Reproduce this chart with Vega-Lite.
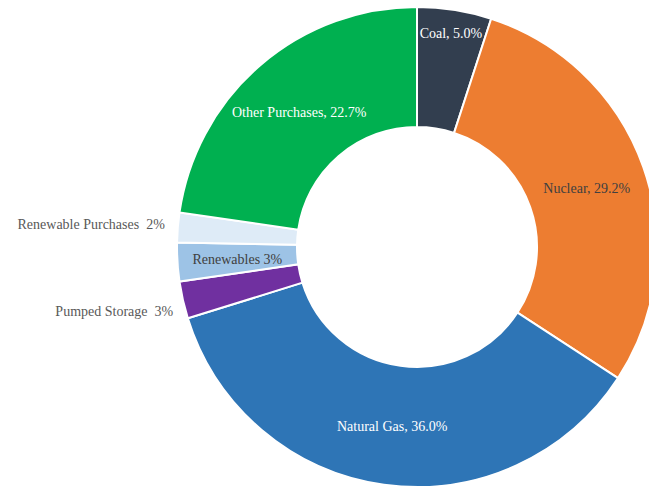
{
  "$schema": "https://vega.github.io/schema/vega-lite/v6.json",
  "autosize": "none",
  "width": 464,
  "height": 480,
  "padding": {"left": 185, "top": 7, "right": 0, "bottom": 0},
  "background": "white",
  "view": {"stroke": null},
  "config": {"text": {"font": "Liberation Serif, Times New Roman, serif", "fontSize": 14}},
  "data": {
    "values": [
      {"idx": 1, "cat": "Coal", "value": 5.0, "label": "Coal, 5.0%"},
      {"idx": 2, "cat": "Nuclear", "value": 29.2, "label": "Nuclear, 29.2%"},
      {"idx": 3, "cat": "Natural Gas", "value": 36.0, "label": "Natural Gas, 36.0%"},
      {"idx": 4, "cat": "Pumped Storage", "value": 2.5, "label": "Pumped Storage\u00a0 3%"},
      {"idx": 5, "cat": "Renewables", "value": 2.6, "label": "Renewables 3%"},
      {"idx": 6, "cat": "Renewable Purchases", "value": 2.0, "label": "Renewable Purchases\u00a0 2%"},
      {"idx": 7, "cat": "Other Purchases", "value": 22.7, "label": "Other Purchases, 22.7%"}
    ]
  },
  "encoding": {
    "theta": {"field": "value", "type": "quantitative", "stack": true},
    "order": {"field": "idx", "type": "quantitative"}
  },
  "layer": [
    {
      "mark": {"type": "arc", "outerRadius": 240, "innerRadius": 120, "stroke": "white", "strokeWidth": 2},
      "encoding": {
        "color": {
          "field": "cat",
          "type": "nominal",
          "scale": {
            "domain": ["Coal", "Nuclear", "Natural Gas", "Pumped Storage", "Renewables", "Renewable Purchases", "Other Purchases"],
            "range": ["#323E4F", "#ED7D31", "#2E75B6", "#7030A0", "#9DC3E6", "#DEEBF7", "#00B050"]
          },
          "legend": null
        }
      }
    },
    {
      "mark": {"type": "text", "radius": 180, "dy": 2, "font": "Liberation Serif", "fontSize": 14, "color": "white", "align": "center", "baseline": "middle"},
      "encoding": {
        "text": {"condition": {"test": "datum.cat === 'Natural Gas' || datum.cat === 'Other Purchases'", "field": "label"}, "value": ""}
      }
    },
    {
      "mark": {"type": "text", "radius": 180, "dy": 2, "font": "Liberation Serif", "fontSize": 14, "color": "#404040", "align": "center", "baseline": "middle"},
      "encoding": {
        "text": {"condition": {"test": "datum.cat === 'Nuclear' || datum.cat === 'Renewables'", "field": "label"}, "value": ""}
      }
    },
    {
      "mark": {"type": "text", "radius": 217, "dy": 1, "font": "Liberation Serif", "fontSize": 14, "color": "white", "align": "center", "baseline": "middle"},
      "encoding": {
        "text": {"condition": {"test": "datum.cat === 'Coal'", "field": "label"}, "value": ""}
      }
    },
    {
      "mark": {"type": "text", "radius": 253, "dy": -1, "font": "Liberation Serif", "fontSize": 14, "color": "#595959", "align": "right", "baseline": "middle"},
      "encoding": {
        "text": {"condition": {"test": "datum.cat === 'Renewable Purchases'", "field": "label"}, "value": ""}
      }
    },
    {
      "mark": {"type": "text", "radius": 250, "dy": 10, "font": "Liberation Serif", "fontSize": 14, "color": "#595959", "align": "right", "baseline": "middle"},
      "encoding": {
        "text": {"condition": {"test": "datum.cat === 'Pumped Storage'", "field": "label"}, "value": ""}
      }
    }
  ]
}
